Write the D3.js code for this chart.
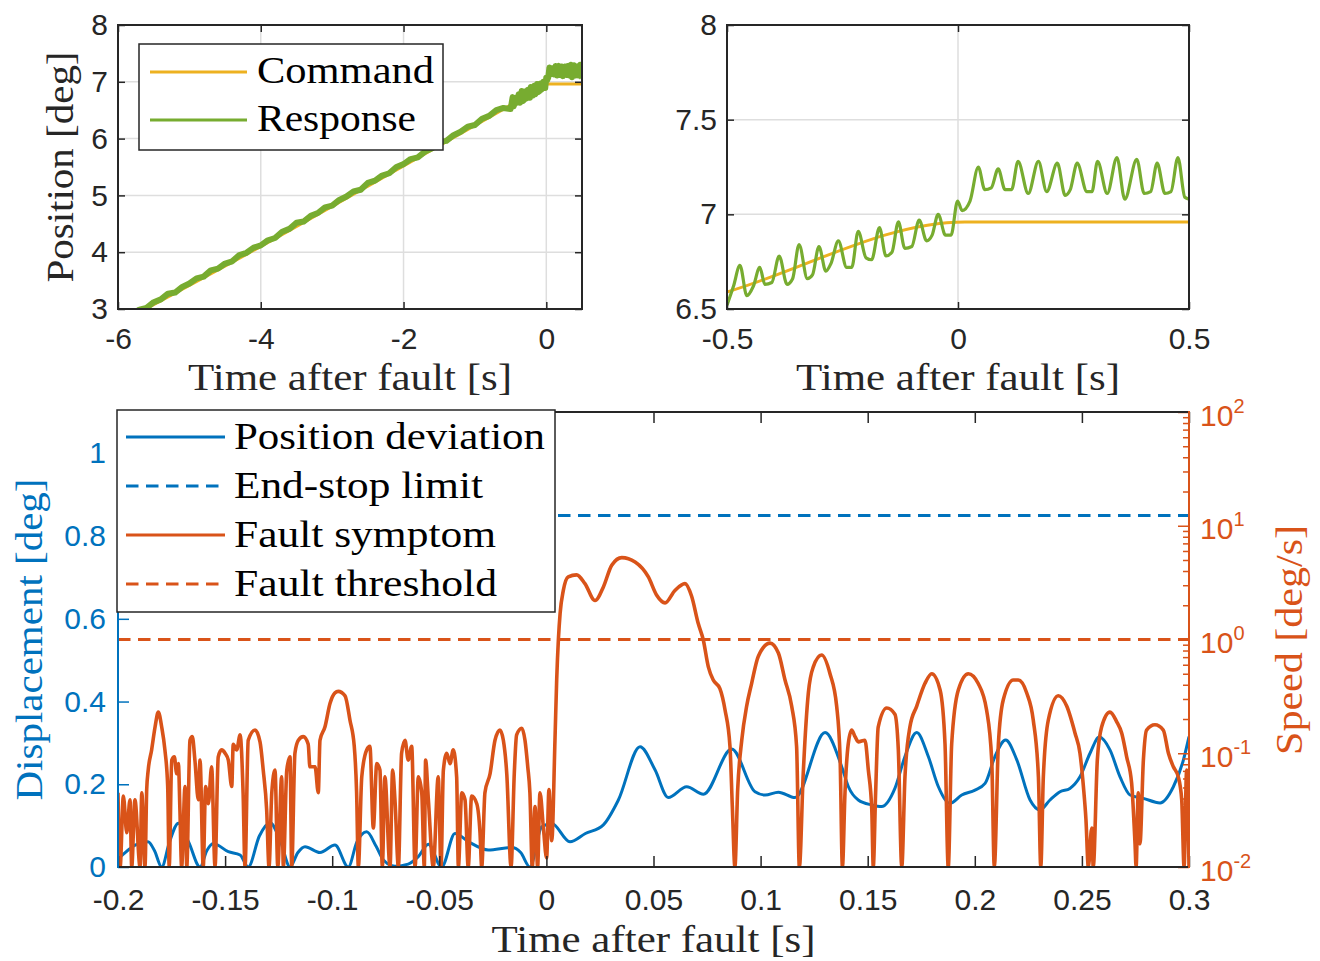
<!DOCTYPE html>
<html>
<head>
<meta charset="utf-8">
<script src="https://cdn.jsdelivr.net/npm/d3@7"></script>
<style>
  html, body { margin: 0; padding: 0; background: #fff; }
  svg { display: block; }
</style>
</head>
<body>
<svg id="chart" width="1320" height="961"></svg>
<script>
// ---- data ----
const overviewTicksX = [-6, -4, -2, 0];
const overviewTicksY = [3, 4, 5, 6, 7, 8];
const zoomTicksX = [-0.5, 0, 0.5];
const zoomTicksY = [6.5, 7, 7.5, 8];
const faultTicksX = [-0.2, -0.15, -0.1, -0.05, 0, 0.05, 0.1, 0.15, 0.2, 0.25, 0.3];
const displacementTicks = [0, 0.2, 0.4, 0.6, 0.8, 1];
const speedDecades = [-2, -1, 0, 1, 2];

// command position [s, deg]
const command = [[-6, 2.74], [-4, 4.1], [-2, 5.52], [-0.5, 6.59], [0.015, 6.96], [0.5, 6.96]];

// response, coarse samples before the zoomed window [s, deg]
const responseCoarse = [
  [-5.8, 2.91], [-5.7, 2.99], [-5.6, 3.02], [-5.5, 3.12], [-5.4, 3.17], [-5.3, 3.27], [-5.2, 3.29],
  [-5.1, 3.39], [-5.0, 3.45], [-4.9, 3.54], [-4.8, 3.57], [-4.7, 3.68], [-4.6, 3.71], [-4.5, 3.80],
  [-4.4, 3.84], [-4.3, 3.95], [-4.2, 3.99], [-4.1, 4.08], [-4.0, 4.12], [-3.9, 4.21], [-3.8, 4.25],
  [-3.7, 4.36], [-3.6, 4.41], [-3.5, 4.52], [-3.4, 4.54], [-3.3, 4.64], [-3.2, 4.69], [-3.1, 4.79],
  [-3.0, 4.82], [-2.9, 4.92], [-2.8, 4.98], [-2.7, 5.07], [-2.6, 5.10], [-2.5, 5.22], [-2.4, 5.26],
  [-2.3, 5.35], [-2.2, 5.39], [-2.1, 5.50], [-2.0, 5.55], [-1.9, 5.64], [-1.8, 5.67], [-1.7, 5.77],
  [-1.6, 5.83], [-1.5, 5.94], [-1.4, 5.96], [-1.3, 6.06], [-1.2, 6.12], [-1.1, 6.21], [-1.0, 6.24],
  [-0.9, 6.35], [-0.8, 6.40], [-0.7, 6.50], [-0.6, 6.54]
];

// response around the fault [s, deg]
const responseFine = [
  [-0.5, 6.52], [-0.486, 6.62], [-0.472, 6.73], [-0.457, 6.57], [-0.443, 6.62], [-0.429, 6.72],
  [-0.418, 6.63], [-0.403, 6.64], [-0.387, 6.78], [-0.37, 6.63], [-0.358, 6.66], [-0.344, 6.84],
  [-0.326, 6.66], [-0.315, 6.68], [-0.301, 6.83], [-0.286, 6.70], [-0.275, 6.74], [-0.259, 6.86],
  [-0.241, 6.72], [-0.23, 6.72], [-0.216, 6.91], [-0.199, 6.77], [-0.187, 6.76], [-0.17, 6.93],
  [-0.156, 6.78], [-0.143, 6.80], [-0.129, 6.96], [-0.115, 6.82], [-0.1, 6.83], [-0.084, 6.97],
  [-0.068, 6.86], [-0.056, 6.89], [-0.043, 7.00], [-0.027, 6.89], [-0.015, 6.89], [-0.001, 7.07],
  [0.009, 7.02], [0.026, 7.07], [0.044, 7.25], [0.058, 7.13], [0.072, 7.14], [0.087, 7.24],
  [0.102, 7.13], [0.116, 7.13], [0.130, 7.28], [0.152, 7.11], [0.174, 7.28], [0.192, 7.12],
  [0.215, 7.27], [0.232, 7.10], [0.243, 7.13], [0.258, 7.27], [0.279, 7.12], [0.29, 7.12],
  [0.302, 7.28], [0.323, 7.11], [0.344, 7.30], [0.361, 7.08], [0.387, 7.29], [0.403, 7.11],
  [0.417, 7.12], [0.431, 7.27], [0.448, 7.11], [0.461, 7.12], [0.476, 7.30], [0.491, 7.09], [0.5, 7.08]
];

// position deviation [s, deg]
const positionDeviation = [
  [-0.2, 0.02], [-0.198, 0.029], [-0.192, 0.053], [-0.186, 0.061], [-0.183, 0.04], [-0.1796, 0],
  [-0.176, 0.06], [-0.1718, 0.106], [-0.167, 0.06], [-0.1617, 0], [-0.1585, 0.04], [-0.1555, 0.057],
  [-0.1485, 0.037], [-0.143, 0.029], [-0.1392, 0], [-0.134, 0.075], [-0.129, 0.107], [-0.124, 0.06],
  [-0.1197, 0], [-0.116, 0.035], [-0.1127, 0.049], [-0.1057, 0.035], [-0.0987, 0.053], [-0.0925, 0],
  [-0.0885, 0.06], [-0.0839, 0.085], [-0.0795, 0.05], [-0.0761, 0.017], [-0.0707, 0.002],
  [-0.0645, 0.007], [-0.0598, 0.025], [-0.0551, 0.055], [-0.0489, 0], [-0.0427, 0.081],
  [-0.036, 0.06], [-0.0271, 0.041], [-0.0162, 0.047], [-0.012, 0.035], [-0.0077, 0],
  [-0.0022, 0.097], [0.0025, 0.105], [0.011, 0.061], [0.0182, 0.081], [0.0266, 0.102],
  [0.0336, 0.162], [0.0437, 0.291], [0.0507, 0.235], [0.0569, 0.168], [0.0655, 0.194],
  [0.0733, 0.176], [0.0865, 0.285], [0.0974, 0.182], [0.1021, 0.174], [0.1083, 0.181],
  [0.1161, 0.168], [0.1301, 0.325], [0.1379, 0.242], [0.141, 0.194], [0.1456, 0.162],
  [0.1519, 0.150], [0.1565, 0.146], [0.1627, 0.190], [0.1674, 0.267], [0.1729, 0.325],
  [0.1783, 0.267], [0.183, 0.194], [0.1884, 0.154], [0.1939, 0.174], [0.2001, 0.186],
  [0.2048, 0.202], [0.2094, 0.267], [0.2144, 0.307], [0.2196, 0.259], [0.2258, 0.162],
  [0.2304, 0.138], [0.2351, 0.162], [0.2398, 0.182], [0.2444, 0.190], [0.2491, 0.218],
  [0.2538, 0.275], [0.2581, 0.314], [0.2631, 0.283], [0.2678, 0.218], [0.2725, 0.174],
  [0.2787, 0.166], [0.2865, 0.155], [0.2927, 0.194], [0.2974, 0.259], [0.3, 0.315]
];

// fault symptom (speed) [s, deg/s]
const faultSymptom = [
  [-0.2, 0.045], [-0.199, 0.01], [-0.1975, 0.042], [-0.1959, 0.02], [-0.1944, 0.039], [-0.1936, 0.01],
  [-0.1921, 0.039], [-0.1897, 0.01], [-0.1889, 0.045], [-0.1874, 0.01], [-0.1866, 0.048], [-0.1859, 0.071],
  [-0.1843, 0.107], [-0.1827, 0.17], [-0.1812, 0.23], [-0.1796, 0.17], [-0.1781, 0.107], [-0.1768, 0.051],
  [-0.1761, 0.01], [-0.1749, 0.087], [-0.1737, 0.093], [-0.1726, 0.066], [-0.1718, 0.081], [-0.1711, 0.032],
  [-0.1703, 0.01], [-0.1687, 0.051], [-0.1679, 0.01], [-0.1664, 0.13], [-0.1653, 0.14], [-0.1641, 0.087],
  [-0.1625, 0.039], [-0.1617, 0.087], [-0.1602, 0.01], [-0.1591, 0.051], [-0.1578, 0.036], [-0.1563, 0.076],
  [-0.1547, 0.01], [-0.1532, 0.093], [-0.1516, 0.107], [-0.15, 0.1], [-0.1485, 0.087], [-0.1469, 0.051],
  [-0.1462, 0.12], [-0.1446, 0.107], [-0.143, 0.145], [-0.1416, 0.045], [-0.1407, 0.01], [-0.1392, 0.13],
  [-0.136, 0.16], [-0.1337, 0.126], [-0.1322, 0.071], [-0.1306, 0.032], [-0.1295, 0.01], [-0.1282, 0.045],
  [-0.1267, 0.071], [-0.1254, 0.01], [-0.1236, 0.062], [-0.1228, 0.01], [-0.1212, 0.071], [-0.1197, 0.093],
  [-0.1189, 0.01], [-0.1174, 0.1], [-0.1158, 0.13], [-0.1135, 0.14], [-0.1112, 0.12], [-0.1104, 0.076],
  [-0.108, 0.076], [-0.1065, 0.045], [-0.1057, 0.13], [-0.1034, 0.17], [-0.101, 0.275], [-0.0987, 0.34],
  [-0.0972, 0.35], [-0.094, 0.32], [-0.0917, 0.195], [-0.0897, 0.115], [-0.0886, 0.045], [-0.0878, 0.01],
  [-0.0862, 0.062], [-0.0839, 0.107], [-0.0824, 0.115], [-0.0808, 0.022], [-0.0792, 0.081], [-0.0777, 0.071],
  [-0.0766, 0.01], [-0.0754, 0.062], [-0.073, 0.01], [-0.0718, 0.071], [-0.0707, 0.039], [-0.0691, 0.01],
  [-0.0676, 0.1], [-0.066, 0.13], [-0.0645, 0.087], [-0.0629, 0.115], [-0.0613, 0.01], [-0.0598, 0.062],
  [-0.0582, 0.045], [-0.057, 0.01], [-0.0564, 0.087], [-0.0551, 0.039], [-0.0528, 0.01], [-0.0505, 0.062],
  [-0.0492, 0.01], [-0.0481, 0.071], [-0.0465, 0.1], [-0.045, 0.081], [-0.0435, 0.107], [-0.0419, 0.062],
  [-0.0411, 0.01], [-0.0395, 0.045], [-0.038, 0.039], [-0.0365, 0.01], [-0.0349, 0.042], [-0.0325, 0.036],
  [-0.031, 0.02], [-0.0302, 0.01], [-0.0287, 0.045], [-0.0263, 0.066], [-0.024, 0.13], [-0.0217, 0.16],
  [-0.0201, 0.13], [-0.0185, 0.066], [-0.0165, 0.01], [-0.015, 0.066], [-0.0139, 0.145], [-0.0115, 0.166],
  [-0.01, 0.13], [-0.0087, 0.076], [-0.0077, 0.045], [-0.0066, 0.01], [-0.0053, 0.034], [-0.0041, 0.01],
  [-0.003, 0.045], [-0.0014, 0.022], [0.0001, 0.012], [0.0012, 0.048], [0.0025, 0.017], [0.004, 0.13],
  [0.0048, 0.44], [0.0056, 1.0], [0.0064, 1.7], [0.0079, 2.7], [0.0102, 3.55], [0.0141, 3.7], [0.018, 3.1],
  [0.0227, 2.2], [0.0266, 2.9], [0.0305, 4.5], [0.0352, 5.25], [0.0414, 4.8], [0.0476, 3.55], [0.0515, 2.45],
  [0.0554, 2.1], [0.06, 2.7], [0.0647, 3.1], [0.0678, 2.4], [0.0709, 1.38], [0.0732, 1.0], [0.0756, 0.575],
  [0.0779, 0.44], [0.081, 0.37], [0.0834, 0.24], [0.0857, 0.115], [0.0868, 0.034], [0.088, 0.01],
  [0.0893, 0.048], [0.0912, 0.13], [0.0935, 0.26], [0.0958, 0.41], [0.0989, 0.71], [0.1044, 0.93],
  [0.1083, 0.76], [0.1114, 0.44], [0.1145, 0.26], [0.1168, 0.115], [0.1181, 0.01], [0.1199, 0.066],
  [0.1223, 0.34], [0.1246, 0.575], [0.1285, 0.73], [0.1324, 0.5], [0.1355, 0.26], [0.1371, 0.093],
  [0.1382, 0.01], [0.1394, 0.045], [0.1409, 0.12], [0.1425, 0.16], [0.1441, 0.14], [0.1456, 0.126],
  [0.1487, 0.13], [0.1503, 0.071], [0.1519, 0.032], [0.1526, 0.01], [0.1537, 0.045], [0.1549, 0.17],
  [0.1589, 0.25], [0.1627, 0.22], [0.1643, 0.107], [0.1659, 0.01], [0.1674, 0.062], [0.1697, 0.17],
  [0.1729, 0.26], [0.1767, 0.41], [0.1799, 0.5], [0.1838, 0.36], [0.1861, 0.12], [0.1876, 0.01],
  [0.1892, 0.12], [0.1923, 0.36], [0.197, 0.5], [0.2016, 0.41], [0.2055, 0.24], [0.2079, 0.087],
  [0.2091, 0.01], [0.211, 0.12], [0.2133, 0.295], [0.218, 0.44], [0.2203, 0.44], [0.2242, 0.34],
  [0.2273, 0.195], [0.2297, 0.062], [0.2308, 0.01], [0.232, 0.062], [0.2343, 0.195], [0.239, 0.32],
  [0.2429, 0.26], [0.2468, 0.15], [0.2491, 0.1], [0.2507, 0.051], [0.2519, 0.026], [0.253, 0.01],
  [0.2546, 0.022], [0.2553, 0.01], [0.2572, 0.087], [0.2592, 0.17], [0.2631, 0.23], [0.2662, 0.19],
  [0.2686, 0.15], [0.2709, 0.093], [0.2732, 0.055], [0.2748, 0.016], [0.2753, 0.01], [0.2763, 0.045],
  [0.2771, 0.016], [0.2787, 0.087], [0.2802, 0.16], [0.2841, 0.178], [0.288, 0.16], [0.2904, 0.1],
  [0.2927, 0.076], [0.295, 0.062], [0.2966, 0.039], [0.2977, 0.01], [0.2989, 0.071], [0.3, 0.01]
];

const endStopLimit = 0.85;   // deg
const faultThreshold = 1;    // deg/s

// ---- styling ----
const AXIS = '#262626';
const GRID = '#dedede';
const BLUE = '#0072BD';
const ORANGE = '#D95319';
const YELLOW = '#EDB120';
const GREEN = '#77AC30';
const SANS = "'Liberation Sans', Arial, Helvetica, sans-serif";
const SERIF = "'Liberation Serif', 'Times New Roman', serif";
const DASH = '12.5,7.5';

const svg = d3.select('#chart');
const defs = svg.append('defs');

const overviewBox = { left: 118, right: 582, top: 25, bottom: 309 };
const zoomBox = { left: 727, right: 1189, top: 25, bottom: 309 };
const faultBox = { left: 118, right: 1189, top: 412, bottom: 867 };

const fmt = (d) => String(d);

const addClip = (id, box) => {
  defs.append('clipPath').attr('id', id)
    .append('rect')
    .attr('x', box.left).attr('y', box.top)
    .attr('width', box.right - box.left).attr('height', box.bottom - box.top);
};

const styleAxis = (axisG, color) => {
  axisG.select('.domain').remove();
  axisG.attr('font-family', SANS).attr('font-size', 30).style('color', color);
  axisG.selectAll('.tick line').attr('stroke-width', 1.5);
};

const drawGrid = (box, x, y, xTicks, yTicks) => {
  const g = svg.append('g').attr('stroke', GRID).attr('stroke-width', 1.5);
  g.selectAll('line.gx').data(xTicks).join('line')
    .attr('x1', (d) => x(d)).attr('x2', (d) => x(d))
    .attr('y1', box.top).attr('y2', box.bottom);
  g.selectAll('line.gy').data(yTicks).join('line')
    .attr('x1', box.left).attr('x2', box.right)
    .attr('y1', (d) => y(d)).attr('y2', (d) => y(d));
};

const drawFrame = (box, colors) => {
  const g = svg.append('g').attr('stroke-width', 2).attr('stroke-linecap', 'square');
  g.append('line').attr('x1', box.left).attr('x2', box.right).attr('y1', box.top).attr('y2', box.top).attr('stroke', colors.top);
  g.append('line').attr('x1', box.left).attr('x2', box.right).attr('y1', box.bottom).attr('y2', box.bottom).attr('stroke', colors.bottom);
  g.append('line').attr('x1', box.left).attr('x2', box.left).attr('y1', box.top).attr('y2', box.bottom).attr('stroke', colors.left);
  g.append('line').attr('x1', box.right).attr('x2', box.right).attr('y1', box.top).attr('y2', box.bottom).attr('stroke', colors.right);
};

const drawBoxAxes = (box, x, y, opt) => {
  svg.append('g').attr('transform', `translate(0,${box.bottom})`)
    .call(d3.axisBottom(x).tickValues(opt.xTicks).tickFormat(fmt)
      .tickSizeInner(-opt.tick).tickSizeOuter(0).tickPadding(opt.xPad))
    .call(styleAxis, AXIS);
  svg.append('g').attr('transform', `translate(0,${box.top})`)
    .call(d3.axisTop(x).tickValues(opt.xTicks).tickFormat(() => '')
      .tickSizeInner(-opt.tick).tickSizeOuter(0))
    .call(styleAxis, AXIS);
  svg.append('g').attr('transform', `translate(${box.left},0)`)
    .call(d3.axisLeft(y).tickValues(opt.yTicks).tickFormat(fmt)
      .tickSizeInner(-opt.tick).tickSizeOuter(0).tickPadding(opt.yPad))
    .call(styleAxis, opt.leftColor || AXIS);
  if (opt.rightTicks !== false) {
    svg.append('g').attr('transform', `translate(${box.right},0)`)
      .call(d3.axisRight(y).tickValues(opt.yTicks).tickFormat(() => '')
        .tickSizeInner(-opt.tick).tickSizeOuter(0))
      .call(styleAxis, AXIS);
  }
};

const drawSeries = (clipId, data, x, y, color, width, opts = {}) => {
  svg.append('path').datum(data)
    .attr('clip-path', `url(#${clipId})`)
    .attr('fill', 'none')
    .attr('stroke', color)
    .attr('stroke-width', width)
    .attr('stroke-linejoin', 'round')
    .attr('stroke-dasharray', opts.dash || null)
    .attr('d', d3.line().x((d) => x(d[0])).y((d) => y(d[1])).curve(opts.curve || d3.curveMonotoneX));
};

const serifText = (sel, width) => sel
  .attr('font-family', SERIF)
  .attr('font-size', 37)
  .attr('textLength', width)
  .attr('lengthAdjust', 'spacingAndGlyphs');

const xLabel = (cx, baseline, label, width) => {
  svg.append('text').attr('x', cx).attr('y', baseline)
    .attr('text-anchor', 'middle').attr('fill', AXIS)
    .call(serifText, width).text(label);
};

const yLabel = (baselineX, cy, label, width, color) => {
  svg.append('text')
    .attr('transform', `translate(${baselineX},${cy}) rotate(-90)`)
    .attr('text-anchor', 'middle').attr('fill', color)
    .call(serifText, width).text(label);
};

const drawLegend = (box, items) => {
  const g = svg.append('g');
  g.append('rect')
    .attr('x', box.left).attr('y', box.top)
    .attr('width', box.right - box.left).attr('height', box.bottom - box.top)
    .attr('fill', '#fff').attr('stroke', AXIS).attr('stroke-width', 1.5);
  items.forEach((item) => {
    g.append('line')
      .attr('x1', box.lineX1).attr('x2', box.lineX2)
      .attr('y1', item.y).attr('y2', item.y)
      .attr('stroke', item.color).attr('stroke-width', 3)
      .attr('stroke-dasharray', item.dash || null);
    g.append('text')
      .attr('x', box.textX).attr('y', item.y + box.baseline)
      .attr('fill', '#000')
      .call(serifText, item.width).text(item.label);
  });
};

// ---- top left: whole ramp ----
const drawOverview = () => {
  const x = d3.scaleLinear().domain([-6, 0.5]).range([overviewBox.left, overviewBox.right]);
  const y = d3.scaleLinear().domain([3, 8]).range([overviewBox.bottom, overviewBox.top]);
  addClip('clip-overview', overviewBox);
  drawGrid(overviewBox, x, y, overviewTicksX, overviewTicksY);
  drawSeries('clip-overview', command, x, y, YELLOW, 3);
  drawSeries('clip-overview', responseCoarse.concat(responseFine), x, y, GREEN, 6, { curve: d3.curveLinear });
  drawBoxAxes(overviewBox, x, y, { xTicks: overviewTicksX, yTicks: overviewTicksY, tick: 7, xPad: 19, yPad: 10 });
  drawFrame(overviewBox, { top: AXIS, bottom: AXIS, left: AXIS, right: AXIS });
  xLabel(350, 390, 'Time after fault [s]', 324);
  yLabel(73, 167, 'Position [deg]', 231, AXIS);
  drawLegend({ left: 139, right: 443, top: 44, bottom: 150, lineX1: 150, lineX2: 247, textX: 257, baseline: 11 }, [
    { label: 'Command', color: YELLOW, y: 72, width: 177 },
    { label: 'Response', color: GREEN, y: 120, width: 159 }
  ]);
};

// ---- top right: zoom around the fault ----
const drawZoom = () => {
  const x = d3.scaleLinear().domain([-0.5, 0.5]).range([zoomBox.left, zoomBox.right]);
  const y = d3.scaleLinear().domain([6.5, 8]).range([zoomBox.bottom, zoomBox.top]);
  addClip('clip-zoom', zoomBox);
  drawGrid(zoomBox, x, y, zoomTicksX, zoomTicksY);
  drawSeries('clip-zoom', command, x, y, YELLOW, 3);
  drawSeries('clip-zoom', responseFine, x, y, GREEN, 3.2);
  drawBoxAxes(zoomBox, x, y, { xTicks: zoomTicksX, yTicks: zoomTicksY, tick: 7, xPad: 19, yPad: 10 });
  drawFrame(zoomBox, { top: AXIS, bottom: AXIS, left: AXIS, right: AXIS });
  xLabel(958, 390, 'Time after fault [s]', 324);
};

// ---- bottom: fault detection ----
const drawFault = () => {
  const x = d3.scaleLinear().domain([-0.2, 0.3]).range([faultBox.left, faultBox.right]);
  const yDisp = d3.scaleLinear().domain([0, 1.1]).range([faultBox.bottom, faultBox.top]);
  const ySpeed = d3.scaleLog().domain([0.01, 100]).range([faultBox.bottom, faultBox.top]);
  addClip('clip-fault', faultBox);

  const [t0, t1] = x.domain();
  drawSeries('clip-fault', positionDeviation, x, yDisp, BLUE, 3);
  drawSeries('clip-fault', [[t0, endStopLimit], [t1, endStopLimit]], x, yDisp, BLUE, 3, { dash: DASH });
  drawSeries('clip-fault', faultSymptom, x, ySpeed, ORANGE, 3.6);
  drawSeries('clip-fault', [[t0, faultThreshold], [t1, faultThreshold]], x, ySpeed, ORANGE, 3, { dash: DASH });

  drawBoxAxes(faultBox, x, yDisp, {
    xTicks: faultTicksX, yTicks: displacementTicks, tick: 11, xPad: 22, yPad: 12,
    leftColor: BLUE, rightTicks: false
  });

  // right log axis: minor ticks, then decades with 10^n labels
  const minor = ySpeed.ticks().filter((v) => Math.abs(Math.log10(v) - Math.round(Math.log10(v))) > 1e-6);
  svg.append('g').attr('transform', `translate(${faultBox.right},0)`)
    .call(d3.axisRight(ySpeed).tickValues(minor).tickFormat(() => '').tickSizeInner(-6).tickSizeOuter(0))
    .call(styleAxis, ORANGE);
  const major = svg.append('g').attr('transform', `translate(${faultBox.right},0)`)
    .call(d3.axisRight(ySpeed).tickValues(speedDecades.map((e) => Math.pow(10, e)))
      .tickFormat(() => '10').tickSizeInner(-11).tickSizeOuter(0).tickPadding(11))
    .call(styleAxis, ORANGE);
  major.selectAll('.tick text')
    .attr('dy', 13)
    .append('tspan')
    .attr('dy', -13)
    .attr('font-size', 20)
    .text((d) => String(Math.round(Math.log10(d))));

  drawFrame(faultBox, { top: AXIS, bottom: AXIS, left: BLUE, right: ORANGE });

  xLabel(653.5, 952, 'Time after fault [s]', 324);
  yLabel(42, 639.5, 'Displacement [deg]', 322, BLUE);
  yLabel(1302, 640, 'Speed [deg/s]', 230, ORANGE);

  drawLegend({ left: 117, right: 555, top: 410, bottom: 612, lineX1: 126, lineX2: 225, textX: 234, baseline: 11.5 }, [
    { label: 'Position deviation', color: BLUE, y: 437, width: 311 },
    { label: 'End-stop limit', color: BLUE, y: 486, width: 249, dash: DASH },
    { label: 'Fault symptom', color: ORANGE, y: 535, width: 262 },
    { label: 'Fault threshold', color: ORANGE, y: 584, width: 263, dash: DASH }
  ]);
};

drawOverview();
drawZoom();
drawFault();
</script>
</body>
</html>
